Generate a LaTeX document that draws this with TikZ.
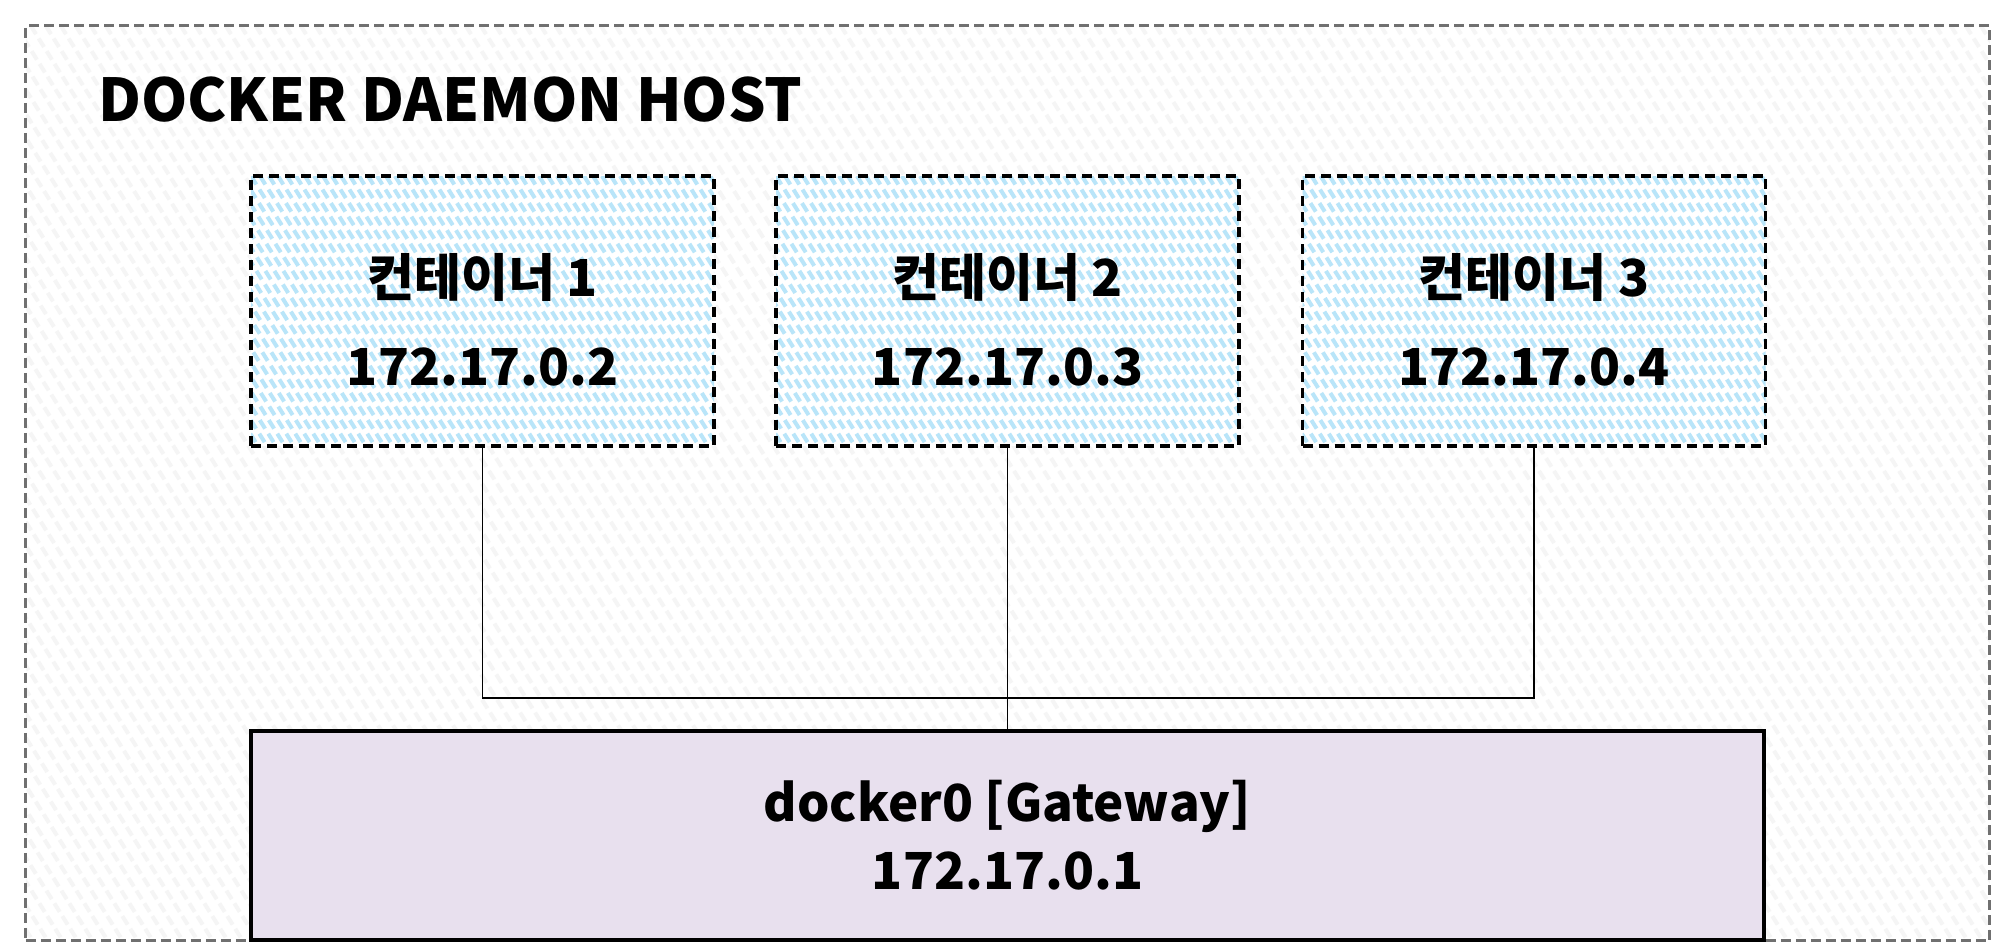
\documentclass[tikz,border=0pt]{standalone}
\usepackage{fontspec}
\setmainfont{Noto Sans CJK KR}
\definecolor{hatchblue}{HTML}{B9E5F9}
\definecolor{hostgray}{HTML}{707070}
\definecolor{hostbg}{HTML}{FFFFFF}
\definecolor{hosthatch}{HTML}{F5F5F5}
\definecolor{gwfill}{HTML}{E8E0EE}
\begin{document}
\begin{tikzpicture}[x=1pt,y=-1pt,
  hostbox/.style={draw=hostgray, line width=2.8pt, dash pattern=on 10pt off 5pt, fill=hostbg,
    minimum width=1964pt, minimum height=915pt, inner sep=0pt,
    path picture={\foreach \i in {-700,-685,...,2000}
      \draw[hosthatch, line width=4pt] ([xshift=\i pt]path picture bounding box.north west) -- ++(572,915);}},
  cbox/.style={draw=black, line width=3.6pt, dash pattern=on 10pt off 6pt, fill=white,
    minimum width=463pt, minimum height=270pt, inner sep=0pt,
    path picture={\foreach \i in {-180,-171,...,480}
      \draw[hatchblue, line width=4pt] ([xshift=\i pt]path picture bounding box.north west) -- ++(169,270);}},
  ctext/.style={align=center, inner sep=0pt, font=\fontsize{51}{89}\selectfont\bfseries},
  gwbox/.style={draw=black, line width=3.2pt, fill=gwfill,
    minimum width=1513pt, minimum height=209pt, inner sep=0pt, align=center,
    font=\fontsize{51}{68}\selectfont\bfseries},
  titlestyle/.style={anchor=base west, inner sep=0pt, font=\fontsize{59}{70}\selectfont\bfseries},
  wire/.style={draw=black, line width=1.5pt}
]
\useasboundingbox (0,0) rectangle (2000,948);
\node[hostbox] (host) at (1007.75,483.25) {};
\node[titlestyle] (title) at (98,121) {DOCKER DAEMON HOST};
\node[cbox] (c1) at (482.5,311) {};
\node[cbox] (c2) at (1007.5,311) {};
\node[cbox] (c3) at (1534,311) {};
\node[ctext] (c1t) at ([yshift=-9pt]c1.center) {컨테이너 1\\172.17.0.2};
\node[ctext] (c2t) at ([yshift=-9pt]c2.center) {컨테이너 2\\172.17.0.3};
\node[ctext] (c3t) at ([yshift=-9pt]c3.center) {컨테이너 3\\172.17.0.4};
\node[gwbox] (gw) at (1007.5,835.5) {docker0 [Gateway]\\172.17.0.1};
\coordinate (bus1) at (c1.south |- 0,698);
\coordinate (bus3) at (c3.south |- 0,698);
\draw[wire] (c1.south) -- (bus1) -- (bus3) -- (c3.south);
\draw[wire] (c2.south) -- (gw.north);
\end{tikzpicture}
\end{document}
